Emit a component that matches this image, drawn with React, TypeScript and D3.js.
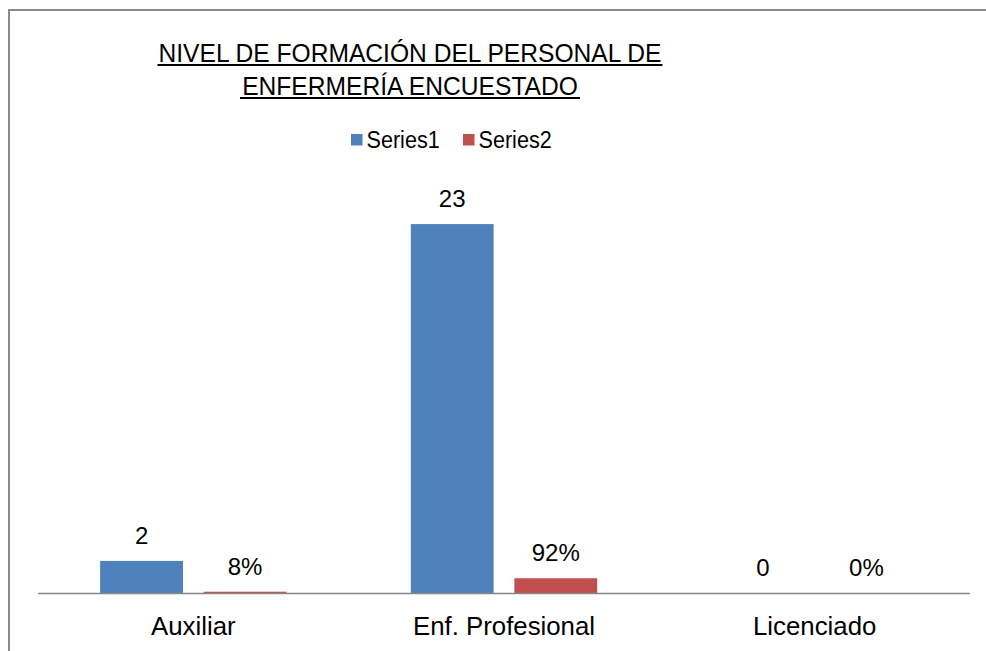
import React from "react";
import * as d3 from "d3";

const categories = ["Auxiliar", "Enf. Profesional", "Licenciado"];
const seriesNames = ["Series1", "Series2"];
const series1 = [2, 23, 0];
const series2 = [0.08, 0.92, 0];
const series1Labels = ["2", "23", "0"];
const series2Labels = ["8%", "92%", "0%"];
const titleLines = ["NIVEL DE FORMACIÓN DEL PERSONAL DE", "ENFERMERÍA ENCUESTADO"];
const colors = ["#4F81BD", "#C0504D"];

const W = 986;
const H = 651;
const FONT = "'Liberation Sans', Arial, sans-serif";

export default function App() {
  const x0 = d3.scaleBand<string>().domain(categories).range([38, 970]).paddingInner(0).paddingOuter(0);
  const bw = x0.bandwidth();
  const x1 = d3.scaleBand<string>().domain(seriesNames).range([bw * 0.2, bw * 0.8]).paddingInner(0.2).paddingOuter(0);
  const y = d3.scaleLinear().domain([0, 25]).range([593, 192]);
  const data = [series1, series2];
  const labels = [series1Labels, series2Labels];
  const underlineW = [505, 340];

  return (
    <svg width={W} height={H} style={{ position: "absolute", left: 0, top: 0, display: "block", background: "#fff" }}>
      <rect x={0} y={0} width={W} height={H} fill="#fff" />
      <rect x={9} y={10} width={W + 20} height={H + 20} fill="none" stroke="#8a8a8a" strokeWidth={2} />
      {titleLines.map((t, i) => (
        <g key={t}>
          <text
            transform={`translate(410,${62 + i * 33}) scale(1,1.05)`}
            textAnchor="middle"
            fontFamily={FONT}
            fontSize={24.6}
            fill="#000"
          >
            {t}
          </text>
          <rect x={410 - underlineW[i] / 2} y={64 + i * 33} width={underlineW[i]} height={2} fill="#000" />
        </g>
      ))}
      {seriesNames.map((s, i) => {
        const lx = [351, 463][i];
        return (
          <g key={s}>
            <rect x={lx} y={134} width={11.5} height={11.5} fill={colors[i]} />
            <text transform={`translate(${lx + 15.5},148) scale(1,1.08)`} fontFamily={FONT} fontSize={21.6} fill="#000">
              {s}
            </text>
          </g>
        );
      })}
      {categories.map((c, ci) => (
        <g key={c} transform={`translate(${x0(c)},0)`}>
          {seriesNames.map((s, si) => {
            const v = data[si][ci];
            const bx = x1(s)!;
            return (
              <g key={s}>
                {v > 0 && (
                  <rect x={bx} y={y(v)} width={x1.bandwidth()} height={y(0) - y(v)} fill={colors[si]} />
                )}
                <text x={bx + x1.bandwidth() / 2} y={y(v) - 17} textAnchor="middle" fontFamily={FONT} fontSize={24} fill="#000">
                  {labels[si][ci]}
                </text>
              </g>
            );
          })}
          <text transform={`translate(${bw / 2},635) scale(1,1.03)`} textAnchor="middle" fontFamily={FONT} fontSize={25.8} fill="#000">
            {c}
          </text>
        </g>
      ))}
      <line x1={38} x2={970} y1={593.5} y2={593.5} stroke="#868686" strokeWidth={1.5} />
    </svg>
  );
}
